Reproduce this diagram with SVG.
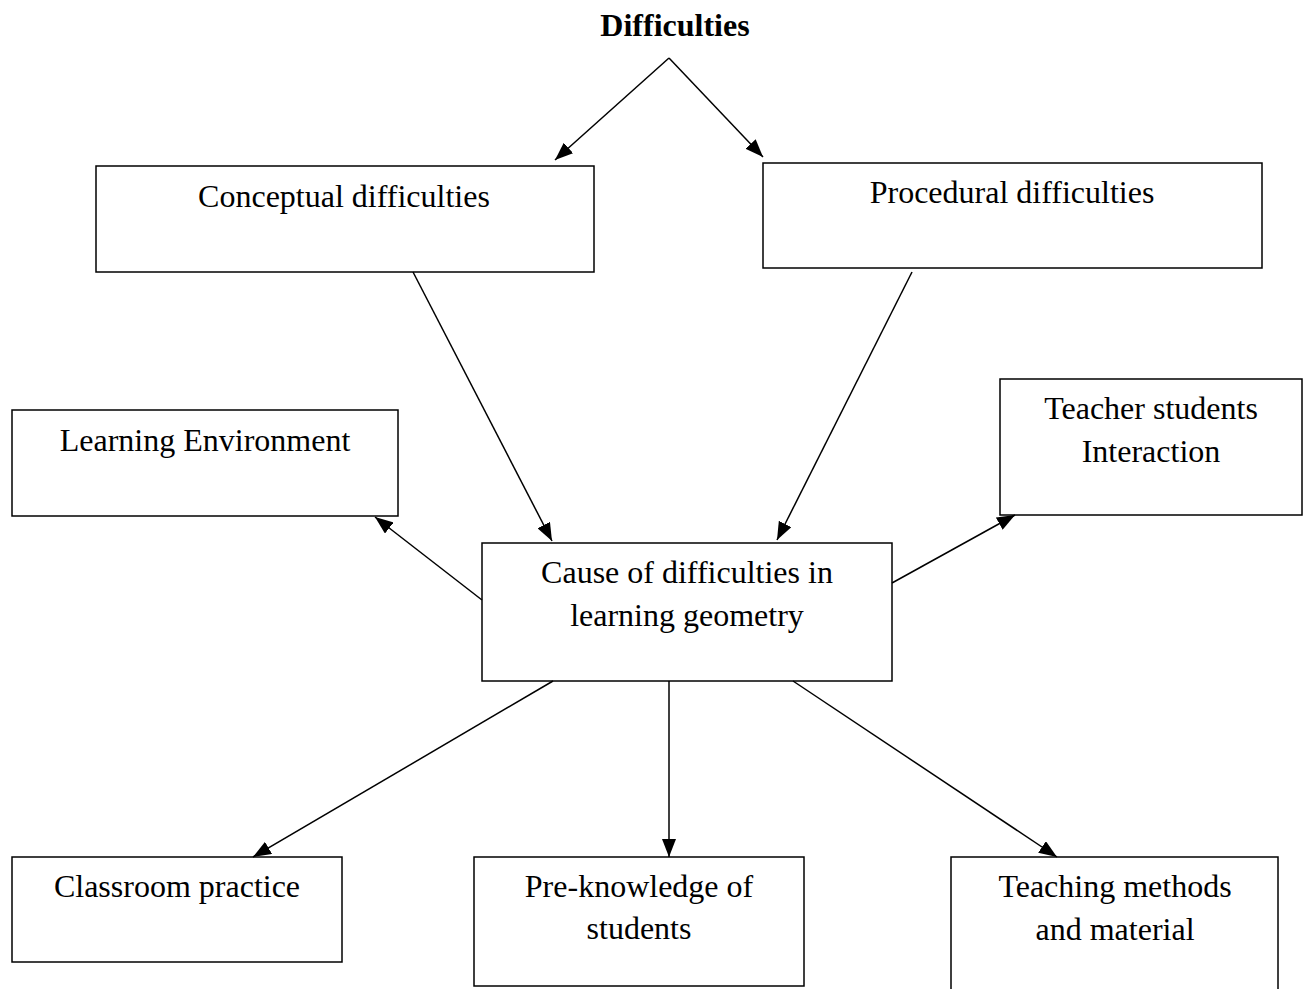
<svg xmlns="http://www.w3.org/2000/svg" width="1307" height="989" viewBox="0 0 1307 989">
<defs>
<marker id="ah" viewBox="0 0 18 14" refX="18" refY="7" markerWidth="18" markerHeight="14" markerUnits="userSpaceOnUse" orient="auto">
<path d="M0,0 L18,7 L0,14 z" fill="#000"/>
</marker>
<style>
.box{fill:#fff;stroke:#000;stroke-width:1.5}
.t{font-size:32px;fill:#000;text-anchor:middle}
.c{stroke:#000;stroke-width:1.5;fill:none;marker-end:url(#ah)}
</style>
</defs>
<rect width="1307" height="989" fill="#fff"/>
<g font-family="Liberation Serif, serif">
<g id="title"><text class="t" x="675" y="36" font-weight="bold" font-size="30">Difficulties</text></g>
<g id="conceptual"><rect class="box" x="96" y="166" width="498" height="106"/><text class="t" x="344" y="207">Conceptual difficulties</text></g>
<g id="procedural"><rect class="box" x="763" y="163" width="499" height="105"/><text class="t" x="1012" y="203">Procedural difficulties</text></g>
<g id="learning-env"><rect class="box" x="12" y="410" width="386" height="106"/><text class="t" x="205" y="451">Learning Environment</text></g>
<g id="teacher-interaction"><rect class="box" x="1000" y="379" width="302" height="136"/><text class="t" x="1151" y="419">Teacher students</text><text class="t" x="1151" y="462">Interaction</text></g>
<g id="cause"><rect class="box" x="482" y="543" width="410" height="138"/><text class="t" x="687" y="583">Cause of difficulties in</text><text class="t" x="687" y="626">learning geometry</text></g>
<g id="classroom"><rect class="box" x="12" y="857" width="330" height="105"/><text class="t" x="177" y="897">Classroom practice</text></g>
<g id="preknowledge"><rect class="box" x="474" y="857" width="330" height="129"/><text class="t" x="639" y="897">Pre-knowledge of</text><text class="t" x="639" y="939">students</text></g>
<g id="teaching-methods"><rect class="box" x="951" y="857" width="327" height="160"/><text class="t" x="1115" y="897">Teaching methods</text><text class="t" x="1115" y="940">and material</text></g>
</g>
<g id="connectors">
<path class="c" d="M669,58 L555,160"/>
<path class="c" d="M669,58 L763,157"/>
<path class="c" d="M413,272 L552,541"/>
<path class="c" d="M912,272 L777,540"/>
<path class="c" d="M482,600 L375,517"/>
<path class="c" d="M892,583 L1015,515"/>
<path class="c" d="M553,681 L253,857"/>
<path class="c" d="M669,681 L669,857"/>
<path class="c" d="M793,681 L1057,857"/>
</g>
</svg>
